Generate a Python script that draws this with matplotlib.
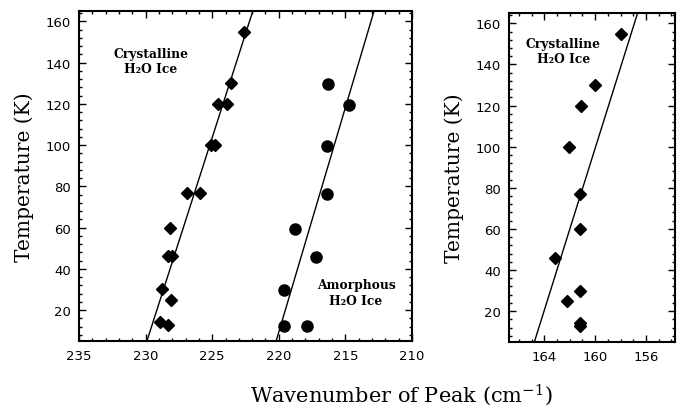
import matplotlib
matplotlib.use("Agg")
import matplotlib.pyplot as plt
from matplotlib.ticker import MultipleLocator

plt.rcParams['mathtext.default'] = 'regular'
plt.rcParams['mathtext.fontset'] = 'dejavuserif'

# ---- data ----
cryst_wn = [222.6, 223.6, 224.6, 223.9, 225.1, 224.8, 226.9, 225.9, 228.2,
            228.3, 228.0, 228.8, 228.1, 228.9, 228.3]
cryst_T = [155, 130, 120, 120, 100, 100, 77, 77, 60, 46, 46, 30, 25, 14, 13]

amorph_wn = [216.3, 214.7, 216.4, 216.4, 218.8, 217.2, 219.6, 219.6, 217.9]
amorph_T = [129.5, 119.5, 99.5, 76.5, 59.5, 45.5, 29.5, 12.5, 12.5]

fit_cryst_wn = [229.9, 221.95]
fit_amorph_wn = [220.2, 212.85]
fit_T = [5, 165]

right_wn = [158.0, 160.0, 161.1, 162.1, 161.2, 161.2, 163.2, 162.2, 161.2, 161.2, 161.2]
right_T = [155, 130, 120, 100, 77, 60, 46, 25, 30, 14, 13]
fit_right_wn = [164.8, 156.65]

left_xticks = [235, 230, 225, 220, 215, 210]
right_xticks = [164, 160, 156]
yticks = [20, 40, 60, 80, 100, 120, 140, 160]

fig = plt.figure(figsize=(6.77, 4.10), dpi=100)
axL = fig.add_axes([79/677, 1-342/410, (412-79)/677, (342-12)/410])
axR = fig.add_axes([509/677, 1-343/410, (675-509)/677, (343-14)/410])

for ax in (axL, axR):
    ax.tick_params(which='both', direction='in', top=True, right=True,
                   width=1.0, labelsize=9.5, pad=6)
    ax.tick_params(which='major', length=5)
    ax.tick_params(which='minor', length=2.5)
    for s in ax.spines.values():
        s.set_linewidth(1.5)
    ax.set_ylim(5, 165)
    ax.set_yticks(yticks)
    ax.yaxis.set_minor_locator(MultipleLocator(4))
    ax.set_ylabel('Temperature (K)', family='DejaVu Serif', fontsize=14.5, labelpad=8)

# left panel
axL.set_xlim(235, 210)
axL.set_xticks(left_xticks)
axL.xaxis.set_minor_locator(MultipleLocator(1))
axL.plot(fit_cryst_wn, fit_T, color='black', lw=1.0)
axL.plot(fit_amorph_wn, fit_T, color='black', lw=1.0)
axL.plot(cryst_wn, cryst_T, linestyle='none', marker='D', ms=5.8, color='black')
axL.plot(amorph_wn, amorph_T, linestyle='none', marker='o', ms=8, color='black')
lab = dict(family='DejaVu Serif', weight='bold', fontsize=8.8, ha='center',
           va='center', linespacing=1.25)
axL.text(229.6, 140.7, 'Crystalline\nH\u2082O Ice', **lab)
axL.text(214.2, 28.5, 'Amorphous\nH\u2082O Ice', **lab)

# right panel
axR.set_xlim(166.8, 153.7)
axR.set_xticks(right_xticks)
axR.xaxis.set_minor_locator(MultipleLocator(1))
axR.plot(fit_right_wn, fit_T, color='black', lw=1.0)
axR.plot(right_wn, right_T, linestyle='none', marker='D', ms=6.5, color='black')
axR.text(162.5, 146.6, 'Crystalline\nH\u2082O Ice', **lab)

for ax in (axL, axR):
    for lbl in ax.get_xticklabels() + ax.get_yticklabels():
        lbl.set_family('DejaVu Sans')

fig.text(401/677, 1-395/410, 'Wavenumber of Peak (cm$^{-1}$)',
         family='DejaVu Serif', fontsize=15, ha='center', va='center')

fig.savefig('out.png', dpi=100)
